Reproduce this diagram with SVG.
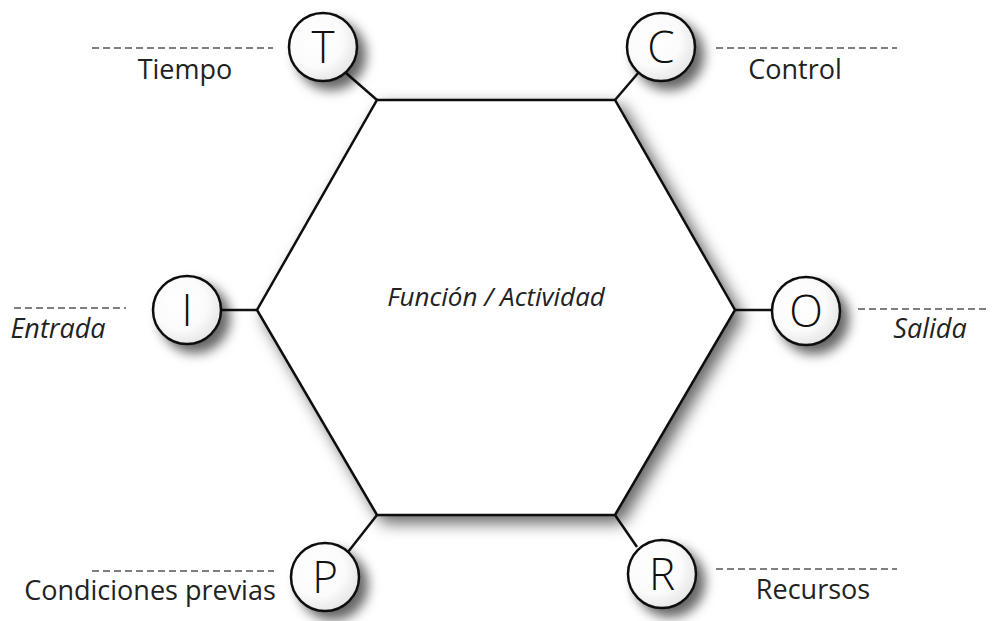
<svg xmlns="http://www.w3.org/2000/svg" width="995" height="621" viewBox="0 0 995 621">
<defs>
<filter id="sh" x="-30%" y="-30%" width="170%" height="170%">
<feDropShadow dx="7" dy="7" stdDeviation="8" flood-color="#000" flood-opacity="0.6"/>
</filter>
<filter id="shc" x="-60%" y="-60%" width="240%" height="240%">
<feDropShadow dx="8" dy="8" stdDeviation="6" flood-color="#000" flood-opacity="0.6"/>
</filter>
<radialGradient id="cg" cx="0.4" cy="0.4" r="0.65">
<stop offset="0" stop-color="#ffffff"/>
<stop offset="0.6" stop-color="#fbfbfb"/>
<stop offset="1" stop-color="#e4e4e4"/>
</radialGradient>
</defs>
<style>
.conn{stroke:#111;stroke-width:2.5;fill:none}
.dash{stroke:#555;stroke-width:1.5;stroke-dasharray:7,4;fill:none}
.hex{fill:#fff;stroke:#111;stroke-width:2.5}
.circ{fill:url(#cg);stroke:#111;stroke-width:2.5}
.let{font-family:"Open Sans","Noto Sans",sans-serif;font-size:44px;font-weight:300;fill:#111;text-anchor:middle}
.lab{font-family:"Open Sans","Noto Sans",sans-serif;font-size:27px;fill:#222}
.it{font-style:italic}
.ctr{font-size:26px}
</style>
<rect width="995" height="621" fill="#fff"/>
<g id="connectors">
<line class="conn" x1="346" y1="73" x2="377" y2="100"/>
<line class="conn" x1="639" y1="72" x2="615" y2="100"/>
<line class="conn" x1="220" y1="310" x2="257" y2="310"/>
<line class="conn" x1="735" y1="310" x2="773" y2="310"/>
<line class="conn" x1="377" y1="515" x2="348" y2="552"/>
<line class="conn" x1="615" y1="515" x2="637" y2="547"/>
</g>
<g id="hexagon">
<polygon class="hex" filter="url(#sh)" points="377,100 615,100 735,310 615,515 377,515 257,310"/>
<text class="lab it ctr" x="496" y="306" text-anchor="middle">Función / Actividad</text>
</g>
<g id="node-T">
<circle class="circ" filter="url(#shc)" cx="323" cy="47" r="34"/>
<text class="let" x="323" y="63">T</text>
<line class="dash" x1="92" y1="48" x2="273" y2="48"/>
<text class="lab" x="185" y="79" text-anchor="middle">Tiempo</text>
</g>
<g id="node-C">
<circle class="circ" filter="url(#shc)" cx="661" cy="47" r="34"/>
<text class="let" x="661" y="63">C</text>
<line class="dash" x1="716" y1="48" x2="897" y2="48"/>
<text class="lab" x="795" y="79" text-anchor="middle">Control</text>
</g>
<g id="node-I">
<circle class="circ" filter="url(#shc)" cx="187" cy="310" r="34"/>
<text class="let" x="187" y="326">I</text>
<line class="dash" x1="14" y1="308" x2="126" y2="308"/>
<text class="lab it" x="58" y="338" text-anchor="middle">Entrada</text>
</g>
<g id="node-O">
<circle class="circ" filter="url(#shc)" cx="806" cy="311" r="34"/>
<text class="let" x="806" y="327">O</text>
<line class="dash" x1="858" y1="309" x2="986" y2="309"/>
<text class="lab it" x="930" y="338" text-anchor="middle">Salida</text>
</g>
<g id="node-P">
<circle class="circ" filter="url(#shc)" cx="325" cy="577" r="34"/>
<text class="let" x="325" y="593">P</text>
<line class="dash" x1="92" y1="571" x2="274" y2="571"/>
<text class="lab" x="150" y="600" text-anchor="middle">Condiciones previas</text>
</g>
<g id="node-R">
<circle class="circ" filter="url(#shc)" cx="662" cy="574" r="34"/>
<text class="let" x="662" y="590">R</text>
<line class="dash" x1="716" y1="569" x2="897" y2="569"/>
<text class="lab" x="813" y="599" text-anchor="middle">Recursos</text>
</g>
</svg>
